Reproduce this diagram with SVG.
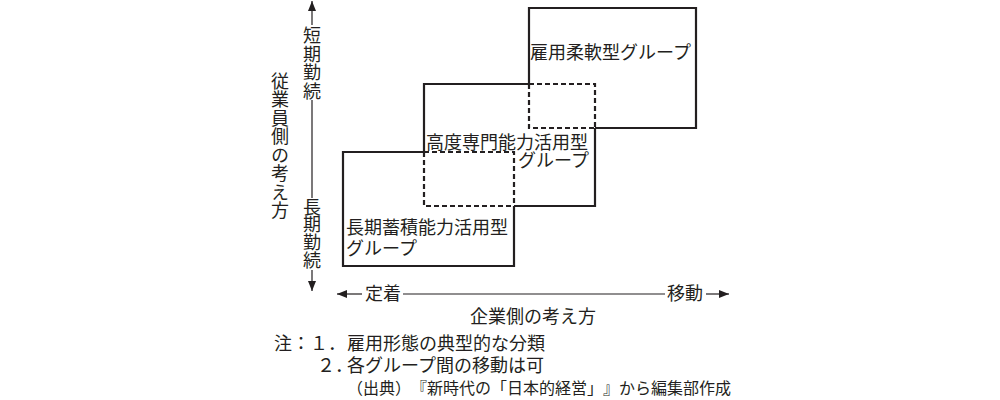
<svg xmlns="http://www.w3.org/2000/svg" width="1000" height="400" viewBox="0 0 1000 400">
<style>
text{font-family:"Noto Sans CJK JP","Noto Sans",sans-serif;fill:#231f20;font-size:18px;text-spacing-trim:space-all}
.vt{writing-mode:vertical-rl;text-orientation:upright}
.solid{fill:none;stroke:#231f20;stroke-width:2.2}
.dash{fill:none;stroke:#231f20;stroke-width:2.2;stroke-dasharray:5 3}
.ax{fill:none;stroke:#231f20;stroke-width:1.2}
.src{font-size:16px}
</style>
<defs>
<marker id="ah" viewBox="0 0 10 8" refX="10" refY="4" markerWidth="10" markerHeight="8" markerUnits="userSpaceOnUse" orient="auto">
<path d="M0,0 L10,4 L0,8 Z" fill="#231f20"/>
</marker>
</defs>
<rect width="1000" height="400" fill="#fff"/>
<g id="connectors">
<path class="ax" d="M312,25 V1" marker-end="url(#ah)"/>
<path class="ax" d="M312,100 V198"/>
<path class="ax" d="M312,270 V291" marker-end="url(#ah)"/>
<path class="ax" d="M362,294 H337" marker-end="url(#ah)"/>
<path class="ax" d="M403,294 H665"/>
<path class="ax" d="M706,294 H729" marker-end="url(#ah)"/>
</g>
<g id="box-long">
<path class="solid" d="M424,152 H343 V266 H514 V206"/>
<path class="dash" d="M424,152 H514 V206"/>
<text x="346" y="234">長期蓄積能力活用型</text>
<text x="346" y="255">グループ</text>
</g>
<g id="box-expert">
<path class="solid" d="M424,152 V84 H529 M595,128 V206 H514"/>
<path class="dash" d="M424,152 V206 H514 M529,84 H595 V128"/>
<text x="426" y="149">高度専門能力活用型</text>
<text x="589" y="167" text-anchor="end">グループ</text>
</g>
<g id="box-flex">
<path class="solid" d="M529,84 V8 H696 V128 H595"/>
<path class="dash" d="M529,84 V128 H595"/>
<text x="530" y="59">雇用柔軟型グループ</text>
</g>
<g id="axis-y-labels">
<text class="vt" x="312" y="26" letter-spacing="0.7">短期勤続</text>
<text class="vt" x="312" y="198" letter-spacing="-0.4">長期勤続</text>
<text class="vt" x="280" y="72" letter-spacing="0.5">従業員側の考え方</text>
</g>
<g id="axis-x-labels">
<text x="365" y="300">定着</text>
<text x="667" y="300">移動</text>
<text x="470" y="323">企業側の考え方</text>
</g>
<g id="notes">
<text x="274" y="350">注：</text>
<text x="310" y="350">１．</text>
<text x="347" y="350">雇用形態の典型的な分類</text>
<text x="317" y="372">２．</text>
<text x="347" y="372">各グループ間の移動は可</text>
<text class="src" x="347" y="394">（出典）</text>
<text class="src" x="411" y="394">『新時代の「日本的経営」</text>
<text class="src" x="603" y="394">』</text>
<text class="src" x="619" y="394">から編集部作成</text>
</g>
</svg>
